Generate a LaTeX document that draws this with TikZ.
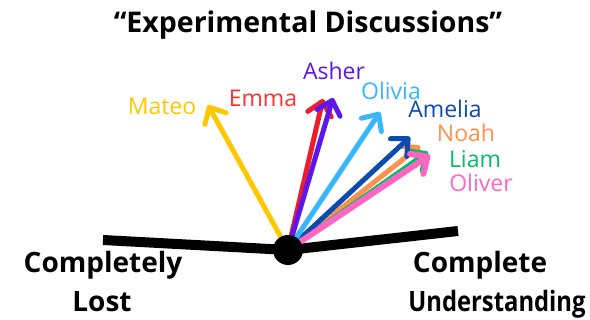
\documentclass[tikz,border=0pt]{standalone}
\usepackage{fontspec}
\setmainfont{Open Sans}
\usetikzlibrary{arrows.meta}
\definecolor{cyel}{HTML}{FFC700}
\definecolor{cred}{HTML}{EE1D2A}
\definecolor{credt}{HTML}{FF3131}
\definecolor{cpur}{HTML}{5E17EB}
\definecolor{clbl}{HTML}{38B6FF}
\definecolor{cdbl}{HTML}{0A4BAD}
\definecolor{cora}{HTML}{FF914D}
\definecolor{cgrn}{HTML}{00BF63}
\definecolor{cpnk}{HTML}{FF66C4}
\begin{document}
\begin{tikzpicture}[x=1pt,y=-1pt,
  arr/.style={line width=5pt, line cap=round, line join=round,
    -{Straight Barb[length=13pt,width=24pt,line cap=round,line join=round]}},
  namelbl/.style={font=\fontsize{23}{23}\selectfont, anchor=base, inner sep=0pt},
  biglbl/.style={font=\bfseries\fontsize{28}{28}\selectfont, anchor=base, inner sep=0pt},
  bar/.style={line width=10pt, line cap=butt},
  hubdot/.style={circle, fill=black, minimum size=30pt, inner sep=0pt}]
\useasboundingbox (0,0) rectangle (590,320);
% title
\node[font=\bfseries\fontsize{28.5}{28.5}\selectfont, anchor=base, inner sep=0pt] (title) at (308,33) {“Experimental Discussions”};
% hub and bar
\coordinate (c) at (288,250);
\coordinate (lend) at (103,240);
\coordinate (rend) at (458,231);
\draw[bar] (lend) -- (c) -- (rend);
% arrow tips
\coordinate (tAmelia) at (410,137);
\coordinate (tNoah) at (420,146);
\coordinate (tLiam) at (428,152);
\coordinate (tOliver) at (430,155);
\coordinate (tOlivia) at (380,112);
\coordinate (tEmma) at (323,99);
\coordinate (tAsher) at (333,98);
\coordinate (tMateo) at (208,105);
\draw[arr, cora] (c) -- (tNoah);
\draw[arr, cgrn] (c) -- (tLiam);
\draw[arr, cdbl] (c) -- (tAmelia);
\draw[arr, cpnk, line width=6pt] (c) -- (tOliver);
\draw[arr, clbl] (c) -- (tOlivia);
\draw[arr, cred] (c) -- (tEmma);
\draw[arr, cpur] (c) -- (tAsher);
\draw[arr, cyel] (c) -- (tMateo);
\node[hubdot] (hub) at (c) {};
% name labels
\node[namelbl, text=cyel] (lMateo) at (162,115) {Mateo};
\node[namelbl, text=credt] (lEmma) at (263,107) {Emma};
\node[namelbl, text=cpur] (lAsher) at (334,80) {Asher};
\node[namelbl, text=clbl] (lOlivia) at (391,100) {Olivia};
\node[namelbl, text=cdbl] (lAmelia) at (445,118) {Amelia};
\node[namelbl, text=cora] (lNoah) at (466,142) {Noah};
\node[namelbl, text=cgrn] (lLiam) at (475,168) {Liam};
\node[namelbl, text=cpnk] (lOliver) at (481,192) {Oliver};
% axis labels
\node[biglbl] (lost1) at (103,273) {Completely};
\node[biglbl] (lost2) at (102,312) {Lost};
\node[biglbl] (und1) at (480,273) {Complete};
\node[biglbl] (und2) at (497,312) {\scalebox{0.85}[1]{Understanding}};
\end{tikzpicture}
\end{document}
